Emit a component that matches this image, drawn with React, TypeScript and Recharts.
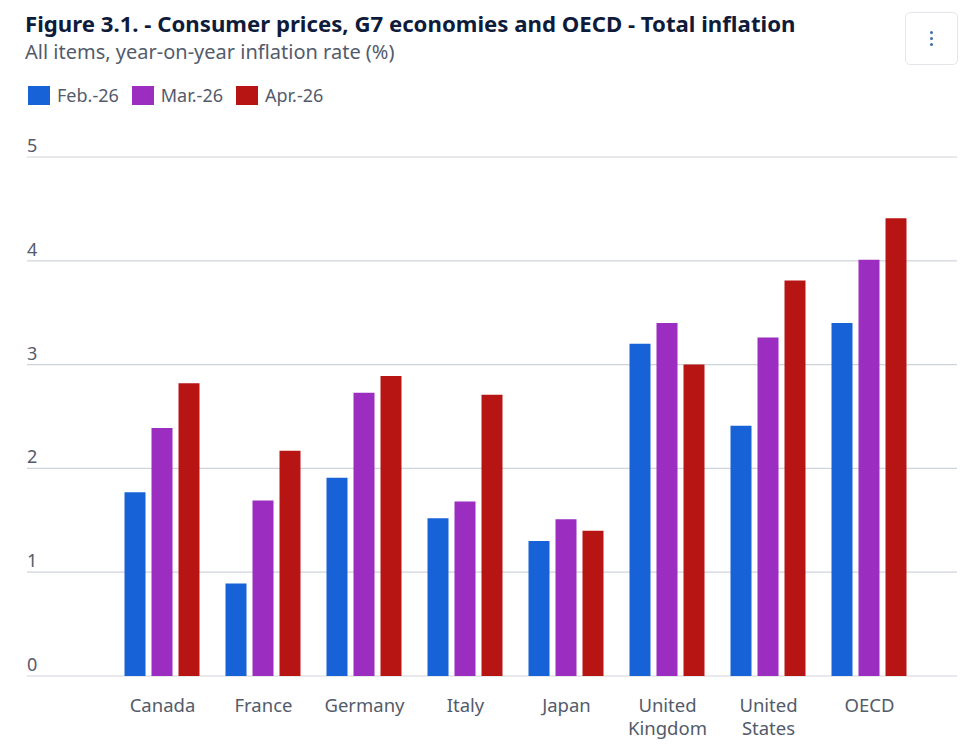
import { Bar, BarChart, CartesianGrid, XAxis, YAxis } from 'recharts';

const countries = ['Canada', 'France', 'Germany', 'Italy', 'Japan', 'United Kingdom', 'United States', 'OECD'];
const feb26 = [1.77, 0.89, 1.91, 1.52, 1.3, 3.2, 2.41, 3.4];
const mar26 = [2.39, 1.69, 2.73, 1.68, 1.51, 3.4, 3.26, 4.01];
const apr26 = [2.82, 2.17, 2.89, 2.71, 1.4, 3.0, 3.81, 4.41];
const yTicks = [0, 1, 2, 3, 4, 5];

const SERIES = [
  { key: 'feb', name: 'Feb.-26', color: '#1662D6' },
  { key: 'mar', name: 'Mar.-26', color: '#9B2DC0' },
  { key: 'apr', name: 'Apr.-26', color: '#B71414' },
];

const data = countries.map((c, i) => ({ c, feb: feb26[i], mar: mar26[i], apr: apr26[i] }));

const FONT = '"Noto Sans", sans-serif';
const LABEL = '#535B6B';

function YTick({ y, payload }: any) {
  return (
    <text x={27} y={y - 5} fill={LABEL} fontSize={18} fontFamily={FONT} textAnchor="start">
      {payload.value}
    </text>
  );
}

function XTick({ x, y, payload }: any) {
  const lines = String(payload.value).split(' ');
  return (
    <text x={x} y={y + 28} fill={LABEL} fontSize={18.5} fontFamily={FONT} textAnchor="middle">
      {lines.map((l, i) => (
        <tspan key={i} x={x} dy={i === 0 ? 0 : 23}>
          {l}
        </tspan>
      ))}
    </text>
  );
}

export default function App() {
  return (
    <div style={{ position: 'absolute', left: 0, top: 0, width: 980, height: 745, background: '#fff', fontFamily: FONT }}>
      <div style={{ position: 'absolute', left: 25, top: 13, fontSize: 22.2, lineHeight: '22px', fontWeight: 700, color: '#0E1B3A', whiteSpace: 'nowrap' }}>
        Figure 3.1. - Consumer prices, G7 economies and OECD - Total inflation
      </div>
      <div style={{ position: 'absolute', left: 25, top: 42, fontSize: 20, lineHeight: '20px', color: LABEL, whiteSpace: 'nowrap' }}>
        All items, year-on-year inflation rate (%)
      </div>
      <div style={{ position: 'absolute', left: 28, top: 85, display: 'flex', alignItems: 'center', fontSize: 18, lineHeight: '20px', color: LABEL }}>
        {SERIES.map((s) => (
          <div key={s.key} style={{ display: 'flex', alignItems: 'center', marginRight: 13 }}>
            <span style={{ width: 22, height: 19, background: s.color, marginRight: 7 }} />
            {s.name}
          </div>
        ))}
      </div>
      <div
        style={{
          position: 'absolute',
          left: 905,
          top: 12,
          width: 53,
          height: 53,
          border: '1px solid #E3E6EB',
          borderRadius: 5,
          boxSizing: 'border-box',
          display: 'flex',
          flexDirection: 'column',
          alignItems: 'center',
          justifyContent: 'center',
          gap: 3,
        }}
      >
        {[0, 1, 2].map((i) => (
          <span key={i} style={{ width: 3, height: 3, borderRadius: 2, background: '#3E6FA8' }} />
        ))}
      </div>
      <div style={{ position: 'absolute', left: 0, top: 0 }}>
        <BarChart
          width={980}
          height={745}
          data={data}
          margin={{ top: 157, right: 23, bottom: 0, left: 26 }}
          barCategoryGap={12.5}
          barGap={6}
        >
          <CartesianGrid vertical={false} stroke="#CFD3DB" strokeWidth={1.2} />
          <XAxis
            dataKey="c"
            height={69}
            axisLine={false}
            tickLine={false}
            interval={0}
            padding={{ left: 85, right: 37 }}
            tick={<XTick />}
          />
          <YAxis width={1} domain={[0, 5]} ticks={yTicks} axisLine={false} tickLine={false} tick={<YTick />} />
          {SERIES.map((s) => (
            <Bar key={s.key} dataKey={s.key} name={s.name} fill={s.color} isAnimationActive={false} />
          ))}
        </BarChart>
      </div>
    </div>
  );
}
